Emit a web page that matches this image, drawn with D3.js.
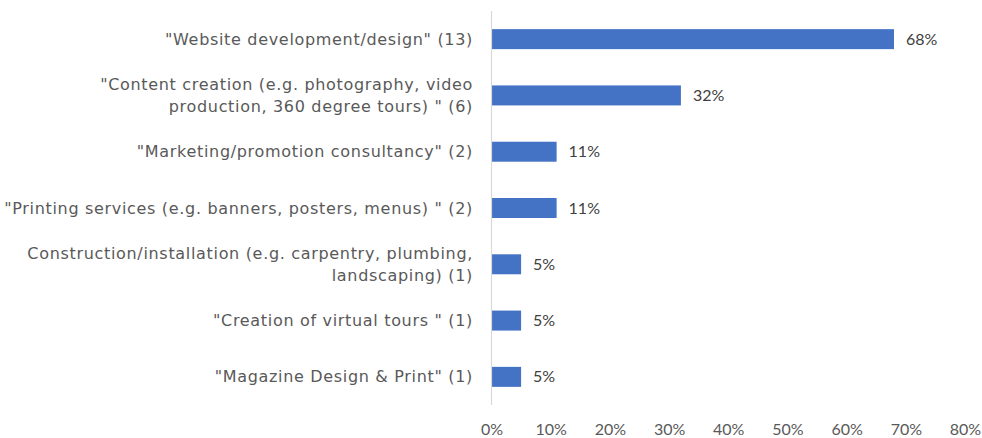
<!DOCTYPE html>
<html>
<head>
<meta charset="utf-8">
<script src="https://cdn.jsdelivr.net/npm/d3@7"></script>
<style>
  html, body { margin: 0; padding: 0; background: #ffffff; }
  svg { display: block; }
</style>
</head>
<body>
<svg id="chart" width="982" height="438"></svg>
<script>
// Service categories, one entry per bar; each label may wrap onto two lines
const categories = [
  ["\"Website development/design\" (13)"],
  ["\"Content creation (e.g. photography, video", "production, 360 degree tours) \" (6)"],
  ["\"Marketing/promotion consultancy\" (2)"],
  ["\"Printing services (e.g. banners, posters, menus) \" (2)"],
  ["Construction/installation (e.g. carpentry, plumbing,", "landscaping) (1)"],
  ["\"Creation of virtual tours \" (1)"],
  ["\"Magazine Design & Print\" (1)"]
];
// Share of respondents (%)
const values = [68, 32, 11, 11, 5, 5, 5];
const xTicks = [0, 10, 20, 30, 40, 50, 60, 70, 80];

const svg = d3.select("#chart");
const margin = { left: 491.5, right: 17, top: 11, bottom: 33 };
const W = 982, H = 438;

const x = d3.scaleLinear().domain([0, 80]).range([margin.left, W - margin.right]);
const y = d3.scaleBand()
  .domain(d3.range(values.length))
  .range([margin.top, H - margin.bottom])
  .paddingInner(0.645)
  .paddingOuter(0.3225);

// bars
svg.append("g").selectAll("rect")
  .data(values)
  .join("rect")
  .attr("x", x(0))
  .attr("y", (d, i) => y(i))
  .attr("width", d => x(d) - x(0))
  .attr("height", y.bandwidth())
  .attr("fill", "#4472C4");

// vertical axis line at 0%
svg.append("line")
  .attr("x1", x(0)).attr("x2", x(0))
  .attr("y1", margin.top).attr("y2", H - margin.bottom)
  .attr("stroke", "#d9d9d9")
  .attr("stroke-width", 1.2);

// value labels
svg.append("g").selectAll("text")
  .data(values)
  .join("text")
  .attr("x", d => x(d) + 12)
  .attr("y", (d, i) => y(i) + y.bandwidth() / 2)
  .attr("dy", "0.35em")
  .attr("font-family", "Lato, 'Open Sans', sans-serif")
  .attr("font-size", 16)
  .attr("fill", "#404040")
  .text(d => d + "%");

// category labels
const labelG = svg.append("g");
categories.forEach((lines, i) => {
  const cy = y(i) + y.bandwidth() / 2;
  const lh = 21.5;
  const t = labelG.append("text")
    .attr("text-anchor", "end")
    .attr("font-family", "'DejaVu Sans', sans-serif")
    .attr("font-size", 16)
    .attr("letter-spacing", "0.68px")
    .attr("fill", "#595959");
  lines.forEach((ln, j) => {
    t.append("tspan")
      .attr("x", 473)
      .attr("y", cy + (j - (lines.length - 1) / 2) * lh)
      .attr("dy", "0.35em")
      .text(ln);
  });
});

// x axis tick labels
const xAxis = d3.axisBottom(x)
  .tickValues(xTicks)
  .tickFormat(d => d + "%")
  .tickSize(0)
  .tickPadding(0);
const ax = svg.append("g")
  .attr("transform", `translate(0, 429)`)
  .call(xAxis);
ax.select(".domain").remove();
ax.selectAll("text")
  .attr("dy", "0.35em")
  .attr("font-family", "Lato, 'Open Sans', sans-serif")
  .attr("font-size", 16)
  .attr("fill", "#595959");
</script>
</body>
</html>
